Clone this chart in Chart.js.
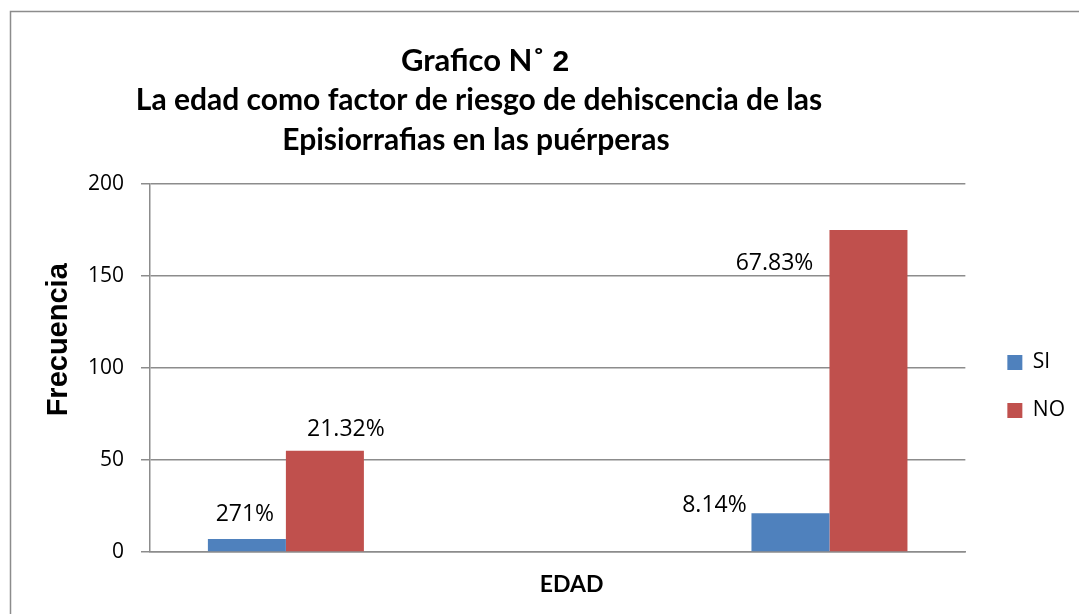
<!DOCTYPE html>
<html>
<head>
<meta charset="utf-8">
<script src="https://cdn.jsdelivr.net/npm/chart.js@4"></script>
<style>
    html, body { margin: 0; padding: 0; background: #ffffff; }
    #wrap { width: 1079px; height: 614px; position: relative; }
</style>
</head>
<body>
<div id="wrap"><canvas id="chart" width="1079" height="614"></canvas></div>
<script>
// data (258 puérperas)
const categories = ['', '', ''];
const seriesNames = ['SI', 'NO'];
const siValues = [7, null, 21];
const noValues = [55, null, 175];
const siLabels = ['271%', '', '8.14%'];
const noLabels = ['21.32%', '', '67.83%'];
const yTicks = [0, 50, 100, 150, 200];
const titleLines = ['Grafico N˚ ', 'La edad como factor de riesgo de dehiscencia de las', 'Episiorrafias en las puérperas'];
const titleNumber = '2';

const GRID = '#8c8c8c';
const NB = '\u00a0';

// outer frame + white background
const framePlugin = {
    id: 'frame',
    beforeDraw: (chart) => {
        const ctx = chart.ctx;
        ctx.save();
        ctx.fillStyle = '#ffffff';
        ctx.fillRect(0, 0, chart.width, chart.height);
        ctx.strokeStyle = '#8c8c8c';
        ctx.lineWidth = 1.5;
        ctx.strokeRect(10.5, 11.5, chart.width + 40, chart.height + 40);
        ctx.restore();
    }
};

// three-line title, sits left of centre like the original
const titlePlugin = {
    id: 'bigTitle',
    afterDraw: (chart) => {
        const ctx = chart.ctx;
        ctx.save();
        ctx.fillStyle = '#000000';

        // first line: text + larger number, same baseline
        ctx.textBaseline = 'alphabetic';
        ctx.font = 'bold 31px Lato';
        const w1 = ctx.measureText(titleLines[0]).width;
        ctx.font = 'bold 30px "Liberation Sans"';
        const w2 = ctx.measureText(titleNumber).width;
        const x0 = 485 - (w1 + w2) / 2;
        ctx.textAlign = 'left';
        ctx.font = 'bold 31px Lato';
        ctx.fillText(titleLines[0], x0, 71);
        ctx.font = 'bold 30px "Liberation Sans"';
        ctx.fillText(titleNumber, x0 + w1, 71);

        ctx.textBaseline = 'middle';
        ctx.textAlign = 'center';
        ctx.font = 'bold 30px Lato';
        ctx.fillText(titleLines[1], 479, 100);
        ctx.fillText(titleLines[2], 476, 140);
        ctx.restore();
    }
};

// hand-placed value labels, offsets from each bar top
const labelOffsets = [
    [[-2, -18], null, [-76, -1]],
    [[21, -15], null, [-94, 40]]
];
const valueLabelPlugin = {
    id: 'valueLabels',
    afterDatasetsDraw: (chart) => {
        const ctx = chart.ctx;
        const texts = [siLabels, noLabels];
        ctx.save();
        ctx.fillStyle = '#000000';
        ctx.font = '23px "Open Sans"';
        ctx.textAlign = 'center';
        ctx.textBaseline = 'alphabetic';
        chart.data.datasets.forEach((ds, di) => {
            const meta = chart.getDatasetMeta(di);
            meta.data.forEach((bar, i) => {
                const t = texts[di][i];
                const off = labelOffsets[di][i];
                if (!t || !off) return;
                ctx.fillText(t, bar.x + off[0], bar.y + off[1]);
            });
        });
        ctx.restore();
    }
};

const ctx = document.getElementById('chart');
new Chart(ctx, {
    type: 'bar',
    plugins: [framePlugin, titlePlugin, valueLabelPlugin],
    data: {
        labels: categories,
        datasets: [{
            label: seriesNames[0],
            data: siValues,
            backgroundColor: '#4F81BD',
            categoryPercentage: 0.574,
            barPercentage: 1
        }, {
            label: seriesNames[1],
            data: noValues,
            backgroundColor: '#C0504D',
            categoryPercentage: 0.574,
            barPercentage: 1
        }]
    },
    options: {
        responsive: false,
        animation: false,
        layout: {
            padding: { top: 159, right: 4, bottom: 0, left: 0 }
        },
        plugins: {
            title: { display: false },
            tooltip: { enabled: false },
            legend: {
                position: 'right',
                labels: {
                    boxWidth: 15,
                    boxHeight: 15,
                    padding: 27,
                    color: '#000000',
                    font: { family: 'Open Sans', size: 21 }
                }
            }
        },
        scales: {
            x: {
                grid: { display: false },
                border: { display: true, color: GRID, width: 1.5 },
                ticks: { display: false },
                title: {
                    display: true,
                    text: NB.repeat(5) + 'EDAD',
                    color: '#000000',
                    font: { family: 'Lato', size: 23, weight: 'bold' },
                    padding: { top: 0, bottom: 16 }
                },
                afterFit: (s) => { s.height = 62; }
            },
            // empty strip above the plot so the legend sits a bit higher
            padTop: {
                type: 'linear',
                position: 'top',
                display: true,
                grid: { display: false },
                border: { display: false },
                ticks: { display: false },
                afterFit: (s) => { s.height = 25; }
            },
            y: {
                min: 0,
                max: 200,
                afterBuildTicks: (s) => { s.ticks = yTicks.map(v => ({ value: v })); },
                grid: { color: GRID, lineWidth: 1.5, tickLength: 9 },
                border: { display: true, color: GRID, width: 1.5 },
                ticks: {
                    color: '#000000',
                    padding: 17,
                    font: { family: 'Open Sans', size: 21 }
                },
                title: {
                    display: true,
                    text: NB.repeat(7) + 'Frecuencia',
                    color: '#000000',
                    font: { family: 'Liberation Sans', size: 29, weight: 'bold' },
                    padding: { top: 42, bottom: 0 }
                },
                afterFit: (s) => { s.width = 150; }
            },
            pad: {
                type: 'linear',
                position: 'right',
                display: true,
                grid: { display: false },
                border: { display: false },
                ticks: { display: false },
                afterFit: (s) => { s.width = 15; }
            }
        }
    }
});
</script>
</body>
</html>
